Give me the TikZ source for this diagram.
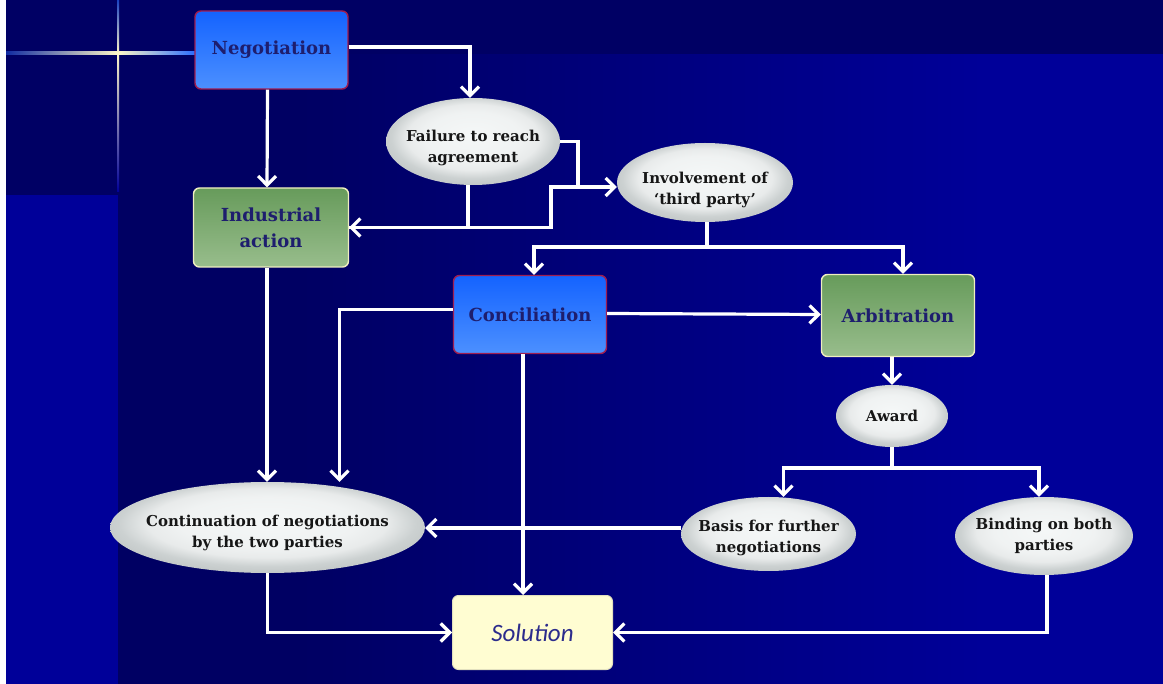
\documentclass[tikz,border=0pt]{standalone}
\usepackage{fontspec}
\setmainfont{DejaVu Serif}
\newfontfamily\solfont{Carlito}
\usetikzlibrary{arrows.meta,shapes.geometric}

\definecolor{navy}{HTML}{000064}
\definecolor{royal}{HTML}{000099}
\definecolor{starpale}{HTML}{FFF8C8}
\definecolor{starblue}{HTML}{2A6CFF}
\definecolor{boxtop}{HTML}{1463FF}
\definecolor{boxbot}{HTML}{4C90FF}
\definecolor{crimson}{HTML}{A01E50}
\definecolor{greentop}{HTML}{679B5B}
\definecolor{greenbot}{HTML}{98BD8C}
\definecolor{paleyellow}{HTML}{EEEEC0}
\definecolor{cream}{HTML}{FFFDD2}
\definecolor{creamedge}{HTML}{E2E0BE}
\definecolor{inkblue}{HTML}{1E1E6E}
\definecolor{ink}{HTML}{161616}
\definecolor{solink}{HTML}{2C2C8C}

% background panel: dark on the left, brighter towards the right
\pgfdeclarehorizontalshading{panel}{100bp}{rgb(0bp)=(0,0,0.39); rgb(34bp)=(0,0,0.39); rgb(67bp)=(0,0,0.6); rgb(100bp)=(0,0,0.6)}
% silvery ellipse surface
\pgfdeclareradialshading{pearlshade}{\pgfpoint{0bp}{4bp}}{rgb(0bp)=(0.96,0.97,0.97); rgb(14bp)=(0.94,0.95,0.95); rgb(19bp)=(0.91,0.92,0.92); rgb(23.5bp)=(0.8,0.82,0.82); rgb(29bp)=(0.74,0.76,0.76); rgb(50bp)=(0.74,0.76,0.76)}

\begin{document}
\begin{tikzpicture}[x=1pt,y=-1pt,
  bluebox/.style={rectangle, rounded corners=6pt, draw=crimson, line width=1.4pt,
    top color=boxtop, bottom color=boxbot, minimum width=153pt, minimum height=78pt,
    inner sep=0pt, align=center, text=inkblue, font=\bfseries\fontsize{18}{26}\selectfont},
  greenbox/.style={bluebox, draw=paleyellow, top color=greentop, bottom color=greenbot},
  pearl/.style={ellipse, shade, shading=pearlshade, inner sep=0pt},
  pearltext/.style={align=center, text=ink, inner sep=0pt,
    font=\bfseries\fontsize{15}{21}\selectfont},
  solbox/.style={rectangle, rounded corners=6pt, draw=creamedge, line width=1pt, fill=cream,
    minimum width=160pt, minimum height=74pt, text=solink,
    font=\solfont\itshape\fontsize{25}{28}\selectfont},
  link/.style={draw=white, line width=3.2pt, -{Straight Barb[length=9pt,width=18pt]}},
  plain/.style={draw=white, line width=3.2pt}]

\useasboundingbox (0,0) rectangle (1163,684);

% background
\fill[navy] (0,0) rectangle (1163,684);
\shade[shading=panel] (118,55) rectangle (1163,684);
\fill[royal] (6,195) rectangle (118,684);
\fill[white] (0,0) rectangle (6,684);

% sparkle
\shade[left color=starblue!40!navy, right color=starpale] (6,52) rectangle (118,54.4);
\shade[left color=starpale, right color=starblue] (118,52) rectangle (195,54.4);
\shade[top color=starblue!60!navy, bottom color=starpale] (117,0) rectangle (119.2,53);
\shade[top color=starpale, bottom color=royal] (117,53) rectangle (119.2,192);

% nodes
\node[bluebox] (neg) at (271.5,50) {Negotiation};
\node[greenbox, minimum width=155pt, minimum height=79pt] (ind) at (271,227.5) {Industrial\\action};
\node[pearl, minimum width=174pt, minimum height=87pt,
  label={[pearltext,yshift=-6pt]center:{Failure to reach\\agreement}}] (fail) at (473,141.5) {};
\node[pearl, minimum width=176pt, minimum height=79pt,
  label={[pearltext,yshift=-7pt]center:{Involvement of\\‘third party’}}] (inv) at (705,182.5) {};
\node[bluebox] (conc) at (530,314.5) {Conciliation};
\node[greenbox, minimum height=82pt] (arb) at (898,315.5) {Arbitration};
\node[pearl, minimum width=112pt, minimum height=62pt,
  label={[pearltext]center:Award}] (award) at (892,416) {};
\node[pearl, minimum width=175pt, minimum height=74pt,
  label={[pearltext,yshift=-4pt]center:{Basis for further\\negotiations}}] (basis) at (768.5,534) {};
\node[pearl, minimum width=178pt, minimum height=78pt,
  label={[pearltext]center:{Binding on both\\parties}}] (bind) at (1044,536) {};
\node[pearl, minimum width=315pt, minimum height=91pt,
  label={[pearltext,yshift=-5pt]center:{Continuation of negotiations\\by the two parties}}] (cont) at (267.5,527.5) {};
\node[solbox] (sol) at (532.5,632.5) {Solution};

% junction points
\coordinate (j1) at (578,187);
\coordinate (j2) at (551,187);
\coordinate (split1) at (707,247);
\coordinate (split2) at (892,468);
\coordinate (failfoot) at ([xshift=-5pt]fail.south);
\coordinate (concleft) at ([yshift=5pt]conc.west);
\coordinate (concfoot) at ([xshift=-7pt]conc.south);
\coordinate (basisleft) at ([yshift=6pt]basis.west);

% connectors
\draw[link] ([yshift=3pt]neg.east) -| ([xshift=-3pt]fail.north);
\draw[link] ([xshift=-4pt]neg.south) -- ([xshift=-4pt]ind.north);
\draw[link] (failfoot) |- (ind.east);
\draw[link] (fail.east) -| (j1) -- (inv.west |- j1);
\draw[plain] (ind.east) -| (j2) -- (j1);
\draw[plain] (inv.south -| split1) -- (split1);
\draw[link] (split1) -| ([xshift=4pt]conc.north);
\draw[link] (split1) -| ([xshift=5pt]arb.north);
\draw[link] ([yshift=1pt]conc.east) -- ([yshift=1pt]arb.west);
\draw[link] (concleft) -| ([xshift=72pt]cont.north);
\draw[link] ([xshift=-4pt]ind.south) -- ([xshift=-4pt]ind.south |- cont.north);
\draw[link] (concfoot) -- (concfoot |- sol.north);
\draw[link] (award.north |- arb.south) -- (award.north);
\draw[plain] (award.south) -- (split2);
\draw[link] (split2) -| ([xshift=15pt]basis.north);
\draw[link] (split2) -| ([xshift=-5pt]bind.north);
\draw[link] (basisleft) -- (cont.east |- basisleft);
\draw[link] (cont.south) |- (sol.west);
\draw[link] ([xshift=3pt]bind.south) |- (sol.east);
\end{tikzpicture}
\end{document}
